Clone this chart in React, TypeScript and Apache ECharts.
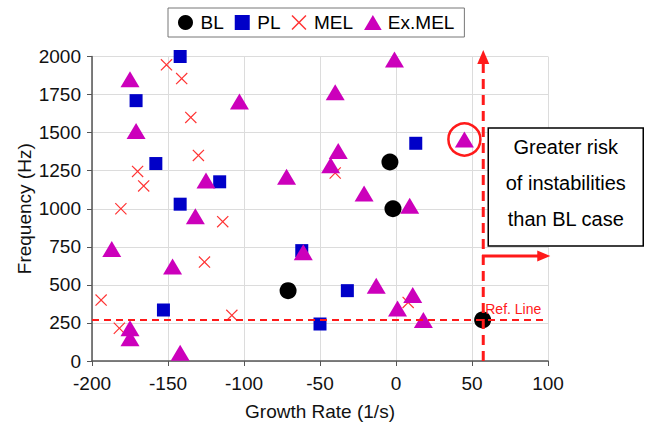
import React, { useEffect, useRef } from 'react';
import * as echarts from 'echarts';

// Data: [growth rate (1/s), frequency (Hz)]
const blPoints: number[][] = [[-71, 462], [-4, 1307], [-2, 1000], [57, 270]];
const plPoints: number[][] = [
  [-142, 2000], [-171, 1710], [-158, 1297], [-116, 1177], [-142, 1030],
  [-153, 335], [-62, 725], [-32, 462], [-50, 243], [13, 1430],
];
const melPoints: number[][] = [
  [-151, 1945], [-141, 1855], [-135, 1600], [-130, 1350], [-170, 1245],
  [-166, 1150], [-181, 1000], [-114, 915], [-126, 650], [-194, 400],
  [-108, 300], [-182, 215], [-40, 1235], [8, 385],
];
const exMelPoints: number[][] = [
  [-175, 1850], [-103, 1705], [-171, 1510], [-125, 1185], [-132, 950],
  [-187, 735], [-147, 620], [-175, 215], [-175, 150], [-142, 55],
  [-1, 1980], [-40, 1765], [-38, 1380], [-43, 1285], [-72, 1210],
  [-21, 1100], [9, 1020], [-61, 715], [-13, 495], [11, 433],
  [1, 345], [18, 270], [45, 1455],
];
const seriesNames = ['BL', 'PL', 'MEL', 'Ex.MEL'];
const xRange = { min: -200, max: 100, interval: 50 };
const yRange = { min: 0, max: 2000, interval: 250 };
const refLineY = 270;
const refLineX = 57.4;
const highlighted = [45, 1455];
const boxLines = ['Greater risk', 'of instabilities', 'than BL case'];

const FONT = '"Liberation Sans", Arial, sans-serif';
const RED = '#FF1A1A';
const CROSS = 'path://M0,7L7,0L50,43L93,0L100,7L57,50L100,93L93,100L50,57L7,100L0,93L43,50Z';
const SQUARE = 'path://M0,0H10V10H0Z';
const TRI = 'path://M10,0L20,17L0,17Z';

export default function App() {
  const ref = useRef<HTMLDivElement>(null);
  useEffect(() => {
    if (!ref.current) return;
    const chart = echarts.init(ref.current, undefined, { renderer: 'svg' });
    const axisCommon = {
      axisLine: { show: true, onZero: false, lineStyle: { color: '#555', width: 1.5 } },
      axisTick: { show: true, inside: false, length: 5, lineStyle: { color: '#555' } },
      splitLine: { show: true, lineStyle: { color: '#dcdcdc', width: 1 } },
      nameTextStyle: { fontSize: 19, color: '#111', fontFamily: FONT },
      nameMoveOverlap: false,
    };
    const plain = (v: number) => String(v);
    chart.setOption({
      animation: false,
      backgroundColor: '#fff',
      textStyle: { fontFamily: FONT },
      grid: { left: 92, right: 104, top: 56.5, bottom: 63, containLabel: false },
      legend: {
        left: 168,
        top: 8,
        orient: 'horizontal',
        padding: [5, 10],
        itemWidth: 20,
        itemHeight: 15,
        itemGap: 11,
        borderColor: '#777',
        borderWidth: 1,
        textStyle: { fontSize: 19, color: '#000', fontFamily: FONT },
        data: [
          { name: 'BL', icon: 'circle' },
          { name: 'PL', icon: SQUARE },
          { name: 'MEL', icon: CROSS },
          { name: 'Ex.MEL', icon: TRI },
        ],
      },
      xAxis: {
        type: 'value',
        ...xRange,
        name: 'Growth Rate (1/s)',
        nameLocation: 'middle',
        nameGap: 41,
        ...axisCommon,
        axisLabel: { fontSize: 19, color: '#111', margin: 13, fontFamily: FONT, formatter: plain },
      },
      yAxis: {
        type: 'value',
        ...yRange,
        name: 'Frequency (Hz)',
        nameLocation: 'middle',
        nameGap: 58,
        ...axisCommon,
        axisLabel: { fontSize: 19, color: '#111', margin: 11, fontFamily: FONT, formatter: plain },
      },
      series: [
        {
          name: seriesNames[0],
          type: 'scatter',
          data: blPoints,
          symbol: 'circle',
          symbolSize: 17,
          itemStyle: { color: '#000', opacity: 1 },
          z: 3,
          markLine: {
            silent: true,
            symbol: ['none', 'none'],
            label: { show: false },
            lineStyle: { color: RED, type: [7, 5], width: 2 },
            data: [{ yAxis: refLineY }],
          },
        },
        {
          name: seriesNames[1],
          type: 'scatter',
          data: plPoints,
          symbol: 'rect',
          symbolSize: 13,
          itemStyle: { color: '#0000C8', opacity: 1 },
        },
        {
          name: seriesNames[2],
          type: 'scatter',
          data: melPoints,
          symbol: CROSS,
          symbolSize: 12,
          itemStyle: { color: '#FF3333', opacity: 1 },
        },
        {
          name: seriesNames[3],
          type: 'scatter',
          data: exMelPoints,
          symbol: 'triangle',
          symbolSize: [19, 16],
          itemStyle: { color: '#CC00BB', opacity: 1 },
        },
      ],
    });

    const p = (x: number, y: number) => chart.convertToPixel({ gridIndex: 0 }, [x, y]) as number[];
    const [vx, vBottom] = p(refLineX, 0);
    const [, vTop] = p(refLineX, 2042);
    const [, refPy] = p(refLineX, refLineY);
    const [hx1, hy] = p(56.6, 690);
    const [hx2] = p(101.5, 690);
    const [cx, cy] = p(highlighted[0], highlighted[1]);
    const boxLeft = vx + 5;
    const boxTop = 128;
    const boxW = 155;
    const boxH = 118;

    chart.setOption({
      graphic: [
        {
          type: 'line', z: 100, silent: true,
          shape: { x1: vx, y1: vBottom, x2: vx, y2: vTop + 12 },
          style: { stroke: RED, lineWidth: 3, lineDash: [10, 6] },
        },
        {
          type: 'polygon', z: 100, silent: true,
          shape: { points: [[vx - 6, vTop + 14], [vx + 6, vTop + 14], [vx, vTop]] },
          style: { fill: RED },
        },
        {
          type: 'line', z: 100, silent: true,
          shape: { x1: hx1, y1: hy, x2: hx2 - 10, y2: hy },
          style: { stroke: RED, lineWidth: 3 },
        },
        {
          type: 'polygon', z: 100, silent: true,
          shape: { points: [[hx2 - 13, hy - 5.5], [hx2 - 13, hy + 5.5], [hx2, hy]] },
          style: { fill: RED },
        },
        {
          type: 'circle', z: 100, silent: true,
          shape: { cx, cy, r: 16 },
          style: { fill: 'none', stroke: RED, lineWidth: 2.5 },
        },
        {
          type: 'rect', z: 100, silent: true,
          shape: { x: boxLeft, y: boxTop, width: boxW, height: boxH },
          style: { fill: '#fff', stroke: '#000', lineWidth: 1.5 },
        },
        ...boxLines.map((t, i) => ({
          type: 'text', z: 101, silent: true,
          x: boxLeft + boxW / 2,
          y: boxTop + 19 + i * 36,
          style: {
            text: t, fill: '#000', font: `20px ${FONT}`,
            align: 'center', verticalAlign: 'middle',
          },
        })),
        {
          type: 'text', z: 101, silent: true,
          x: vx + 2,
          y: refPy - 11,
          style: {
            text: 'Ref. Line', fill: RED, font: `14px ${FONT}`,
            align: 'left', verticalAlign: 'middle',
          },
        },
      ],
    });

    return () => chart.dispose();
  }, []);
  return (
    <div
      ref={ref}
      style={{ position: 'fixed', left: 0, top: 0, width: 652, height: 426, background: '#fff' }}
    />
  );
}
